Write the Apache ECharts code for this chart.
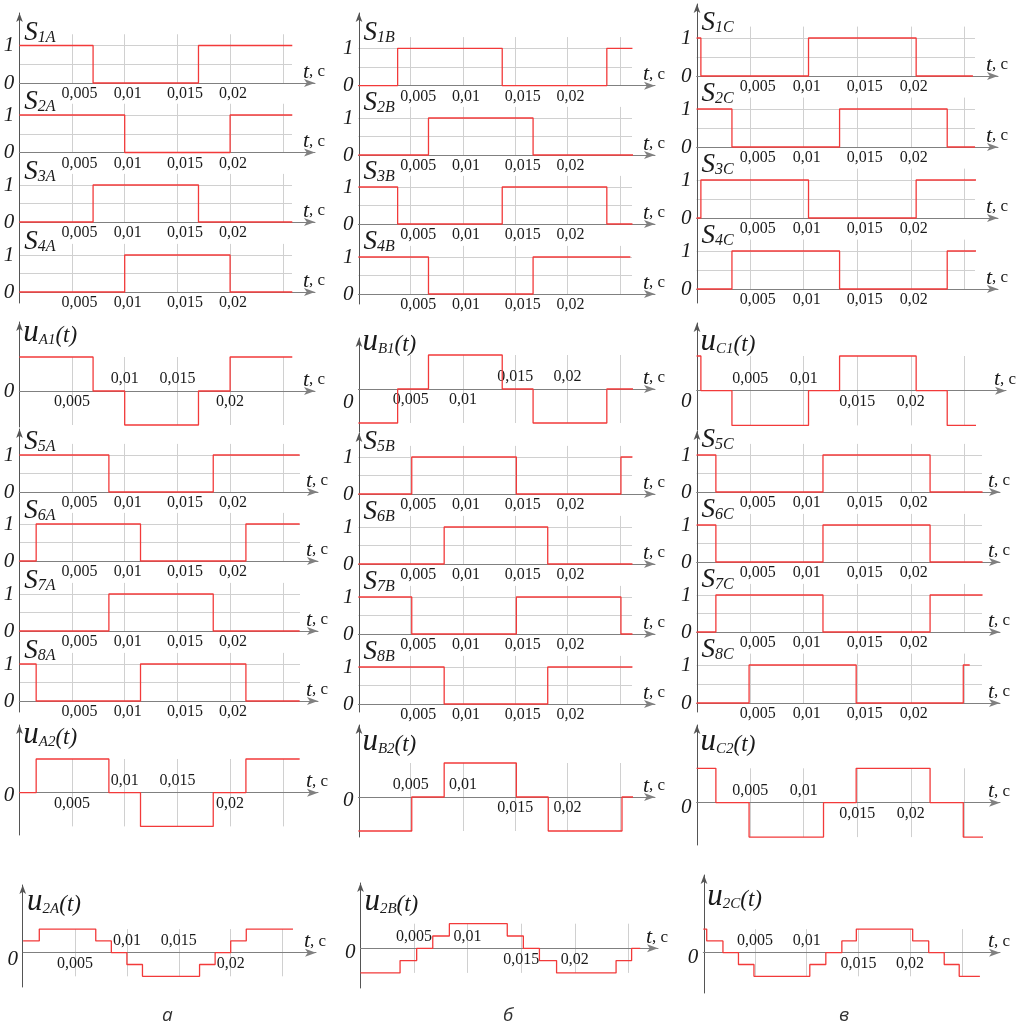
<!DOCTYPE html>
<html><head><meta charset="utf-8">
<script src="https://cdn.jsdelivr.net/npm/echarts@6/dist/echarts.min.js"></script>
<style>html,body{margin:0;padding:0;background:#fff}#c{width:1025px;height:1028px}</style>
</head><body><div id="c"></div><script>
// ---------- DATA (step breakpoints: [time, value from this time on]) ----------
const tickVals = [0.005, 0.01, 0.015, 0.02];
const tickText = ['0,005', '0,01', '0,015', '0,02'];
const colLabels = ['а', 'б', 'в'];

// column а
const S1A = [[0,1],[0.007,0],[0.017,1],[0.0259,1]];
const S2A = [[0,1],[0.010,0],[0.020,1],[0.0259,1]];
const S3A = [[0,0],[0.007,1],[0.017,0],[0.0259,0]];
const S4A = [[0,0],[0.010,1],[0.020,0],[0.0259,0]];
const uA1 = [[0,1],[0.007,0],[0.010,-1],[0.017,0],[0.020,1],[0.0259,1]];
const S5A = [[0,1],[0.0085,0],[0.0184,1],[0.0266,1]];
const S6A = [[0,0],[0.0016,1],[0.0115,0],[0.0215,1],[0.0266,1]];
const S7A = [[0,0],[0.0085,1],[0.0184,0],[0.0266,0]];
const S8A = [[0,1],[0.0016,0],[0.0115,1],[0.0215,0],[0.0266,0]];
const uA2 = [[0,0],[0.0016,1],[0.0085,0],[0.0115,-1],[0.0184,0],[0.0215,1],[0.0266,1]];
const u2A = [[0,1],[0.00156,2],[0.007,1],[0.0085,0],[0.010,-1],[0.0115,-2],[0.017,-1],[0.0185,0],[0.020,1],[0.0215,2],[0.026,2]];

// column б
const S1B = [[0,0],[0.00375,1],[0.01375,0],[0.02375,1],[0.0262,1]];
const S2B = [[0,0],[0.0067,1],[0.0167,0],[0.0267,1]];
const S3B = [[0,1],[0.00375,0],[0.01375,1],[0.02375,0],[0.0262,0]];
const S4B = [[0,1],[0.0067,0],[0.0167,1],[0.026,1]];
const uB1 = [[0,-1],[0.00375,0],[0.0067,1],[0.01375,0],[0.0167,-1],[0.02375,0],[0.0267,1],[0.0272,1]];
const S5B = [[0,0],[0.0051,1],[0.0151,0],[0.0251,1],[0.0262,1]];
const S6B = [[0,0],[0.0082,1],[0.0181,0],[0.0262,0]];
const S7B = [[0,1],[0.0051,0],[0.0151,1],[0.0251,0],[0.0262,0]];
const S8B = [[0,1],[0.0082,0],[0.0181,1],[0.0262,1]];
const uB2 = [[0,-1],[0.0051,0],[0.0082,1],[0.0151,0],[0.01815,-1],[0.0252,0],[0.0265,0]];
const u2B = [[0,-2],[0.0037,-1],[0.00525,0],[0.00675,1],[0.0083,2],[0.0137,1],[0.0152,0],[0.0167,-1],[0.0183,-2],[0.02385,-1],[0.0253,0],[0.0261,0]];

// column в
const S1C = [[0,1],[0.0004,0],[0.01045,1],[0.0205,0],[0.0258,0]];
const S2C = [[0,1],[0.0033,0],[0.01335,1],[0.0234,0],[0.026,0]];
const S3C = [[0,0],[0.0004,1],[0.01045,0],[0.0205,1],[0.0262,1]];
const S4C = [[0,0],[0.0033,1],[0.01335,0],[0.0234,1],[0.0262,1]];
const uC1 = [[0,1],[0.0004,0],[0.0033,-1],[0.01045,0],[0.01335,1],[0.0205,0],[0.0234,-1],[0.0263,-1]];
const S5C = [[0,1],[0.0018,0],[0.0118,1],[0.0218,0],[0.0267,0]];
const S6C = [[0,1],[0.0018,0],[0.0118,1],[0.0218,0],[0.0267,0]];
const S7C = [[0,0],[0.0018,1],[0.0118,0],[0.0218,1],[0.0267,1]];
const S8C = [[0,0],[0.0049,1],[0.0149,0],[0.0249,1],[0.0255,1]];
const uC2 = [[0,1],[0.0018,0],[0.0049,-1],[0.01185,0],[0.0149,1],[0.0218,0],[0.0249,-1],[0.0268,-1]];
const u2C = [[0,2],[0.00033,1],[0.0019,0],[0.0034,-1],[0.0049,-2],[0.0103,-1],[0.01185,0],[0.0134,1],[0.0148,2],[0.02025,1],[0.0218,0],[0.0233,-1],[0.02475,-2],[0.02675,-2]];

// ---------- LAYOUT / STYLE ----------
const RED = '#f23a3a', GRIDC = '#d0d0d0', AX = '#808080', TXT = '#1a1a1a', SERIF = 'Liberation Serif';
const GA  = {x0:19.3, s:10540, tip:315, right:292};
const GA2 = {x0:19.3, s:10540, tip:318, right:300};
const GA3 = {x0:23.1, s:10380, tip:316, right:293};
const GB  = {x0:358.4, s:10460, tip:655, right:632};
const GB3 = {x0:360.4, s:10720, tip:658, right:640};
const GC  = {x0:696.6, s:10710, tip:998, right:975};
const GC1 = {x0:696.6, s:10710, tip:1006, right:975};
const GC2 = {x0:696.6, s:10710, tip:1000, right:982};
const GC3 = {x0:703.3, s:10340, tip:1000, right:980};

const plots = [
  {g:GA, k:'S', t:'1A', d:S1A, zero:83, one:45.5, tb:42},
  {g:GA, k:'S', t:'2A', d:S2A, zero:152.5, one:115, tb:111},
  {g:GA, k:'S', t:'3A', d:S3A, zero:222, one:185, tb:181},
  {g:GA, k:'S', t:'4A', d:S4A, zero:292, one:255, tb:251},
  {g:GA, k:'u', t:'A1', d:uA1, zero:391, one:357, tb:343, above:[1,2], zdy:0},
  {g:GA2, k:'S', t:'5A', d:S5A, zero:492, one:455, tb:451},
  {g:GA2, k:'S', t:'6A', d:S6A, zero:561, one:524, tb:520},
  {g:GA2, k:'S', t:'7A', d:S7A, zero:631, one:594, tb:590},
  {g:GA2, k:'S', t:'8A', d:S8A, zero:701, one:664, tb:660},
  {g:GA2, k:'u', t:'A2', d:uA2, zero:792.7, one:759, tb:745, above:[1,2], zdy:3},
  {g:GA3, k:'u2', t:'2A', d:u2A, zero:952.7, one:940.9, tb:912, above:[1,2], zdy:7},

  {g:GB, k:'S', t:'1B', d:S1B, zero:85.7, one:48.3, tb:42},
  {g:GB, k:'S', t:'2B', d:S2B, zero:155, one:118, tb:112},
  {g:GB, k:'S', t:'3B', d:S3B, zero:224, one:187, tb:181},
  {g:GB, k:'S', t:'4B', d:S4B, zero:294, one:257, tb:251},
  {g:GB, k:'u', t:'B1', d:uB1, zero:389, one:355, tb:352, above:[2,3], zdy:13},
  {g:GB, k:'S', t:'5B', d:S5B, zero:494, one:457, tb:451},
  {g:GB, k:'S', t:'6B', d:S6B, zero:564, one:527, tb:521},
  {g:GB, k:'S', t:'7B', d:S7B, zero:634, one:597, tb:591},
  {g:GB, k:'S', t:'8B', d:S8B, zero:704, one:667, tb:661},
  {g:GB, k:'u', t:'B2', d:uB2, zero:797, one:763, tb:752, above:[0,1], zdy:3},
  {g:GB3, k:'u2', t:'2B', d:u2B, zero:948.3, one:936, tb:912, above:[0,1], zdy:4},

  {g:GC, k:'S', t:'1C', d:S1C, zero:76, one:38, tb:32},
  {g:GC, k:'S', t:'2C', d:S2C, zero:147, one:109, tb:103},
  {g:GC, k:'S', t:'3C', d:S3C, zero:218, one:180, tb:174},
  {g:GC, k:'S', t:'4C', d:S4C, zero:289, one:251, tb:245},
  {g:GC1, k:'u', t:'C1', d:uC1, zero:390.7, one:356, tb:352, above:[0,1], zdy:11},
  {g:GC2, k:'S', t:'5C', d:S5C, zero:492, one:455, tb:449},
  {g:GC2, k:'S', t:'6C', d:S6C, zero:562, one:525, tb:519},
  {g:GC2, k:'S', t:'7C', d:S7C, zero:632, one:595, tb:589},
  {g:GC2, k:'S', t:'8C', d:S8C, zero:703, one:665, tb:659},
  {g:GC2, k:'u', t:'C2', d:uC2, zero:802.7, one:768.3, tb:752, above:[0,1], zdy:5},
  {g:GC3, k:'u2', t:'2C', d:u2C, zero:952.7, one:940.9, tb:907, above:[0,1], zdy:5}
];

const yLines = [
  [19.5,13,303],[19.5,322,427],[19.5,429,712],[19.5,725,835],[22.7,885,987],
  [359,13,304],[359,338,432],[359,433,712],[359,725,837],[360.5,883,988],
  [697,4,303],[697,323,430],[697,431,712],[697,725,845],[704,875,993]
];
const colLabelPos = [[162,1006],[503,1006],[839,1006]];

// ---------- BUILD ----------
const grid = [], xAxis = [], yAxis = [], series = [], title = [];
function addGrid(r){ grid.push(r); return grid.length - 1; }
const tf = {fontFamily:SERIF, fontSize:16, color:TXT, fontWeight:'normal'};
const tickRich = {
  p5:Object.assign({padding:[0,0,0,15]}, tf),
  p4:Object.assign({padding:[0,0,0,6]}, tf),
  c5:Object.assign({}, tf),
  c4:Object.assign({}, tf)
};
function tickFmt(show, shifted){
  return function(v){
    const i = tickVals.findIndex(t => Math.abs(t - v) < 1e-9);
    if (i < 0 || show.indexOf(i) < 0) return '';
    return '{' + (shifted ? 'p' : 'c') + tickText[i].length + '|' + tickText[i] + '}';
  };
}
const nameRich = {
  t:{fontFamily:SERIF,fontStyle:'italic',fontWeight:'normal',fontSize:22,color:TXT,lineHeight:22},
  c:{fontFamily:SERIF,fontWeight:'normal',fontSize:17,color:TXT,lineHeight:22}
};

yLines.forEach(([x,t,b]) => {
  const gi = addGrid({left:x, top:t, width:10, height:b - t});
  xAxis.push({gridIndex:gi, type:'value', show:false, min:0, max:1});
  yAxis.push({gridIndex:gi, type:'value', min:0, max:1,
    axisLine:{show:true, onZero:false, symbol:['none','arrow'], symbolSize:[5,9], lineStyle:{color:'#555', width:1}},
    axisTick:{show:false}, axisLabel:{show:false}, splitLine:{show:false}});
});

plots.forEach(p => {
  const L = p.g, unit = p.zero - p.one;
  const ymin = p.k === 'S' ? 0 : (p.k === 'u' ? -1 : -2);
  const ymax = p.k === 'S' ? 1.3 : (p.k === 'u' ? 1 : 2);
  const gi = addGrid({left:L.x0, top:p.zero - ymax * unit, width:L.right - L.x0, height:(ymax - ymin) * unit});
  const xi = xAxis.length;
  xAxis.push({gridIndex:gi, type:'value', min:0, max:(L.right - L.x0) / L.s, interval:0.005,
    axisLine:{show:false}, axisTick:{show:false}, axisLabel:{show:false},
    splitLine:{show:true, showMinLine:false, showMaxLine:false, lineStyle:{color:GRIDC, width:1}}});
  const yi = yAxis.length;
  const dy = p.zdy || 0;
  yAxis.push({gridIndex:gi, type:'value', min:ymin, max:ymax, interval:p.k === 'S' ? 0.5 : 1,
    axisLine:{show:false}, axisTick:{show:false},
    axisLabel:{margin:5, showMaxLabel:false, fontStyle:'italic', fontFamily:SERIF,
      formatter: v => (Math.abs(v) < 1e-9 ? '{y|0}' : (p.k === 'S' && Math.abs(v - 1) < 1e-9 ? '{y|1}' : '')),
      rich:{y:{fontFamily:SERIF, fontStyle:'italic', fontWeight:'normal', fontSize:21, color:TXT, padding:[2 * dy,0,0,0]}}},
    splitLine:{show:p.k === 'S', showMinLine:false, showMaxLine:false, lineStyle:{color:GRIDC, width:1}}});
  series.push({type:'line', xAxisIndex:xi, yAxisIndex:yi, data:p.d, step:'end', symbol:'none',
    clip:false, silent:true, animation:false, z:5, lineStyle:{color:RED, width:1.3}});

  // axis line, tick labels, name
  const ga = addGrid({left:L.x0, top:p.zero - 30, width:L.tip - L.x0, height:30});
  const amax = (L.tip - L.x0) / L.s;
  const above = p.above || [];
  const below = [0,1,2,3].filter(i => above.indexOf(i) < 0);
  xAxis.push({gridIndex:ga, type:'value', min:0, max:amax, interval:0.005, position:'bottom',
    axisLine:{show:true, onZero:false, symbol:['none','arrow'], symbolSize:[6,11], lineStyle:{color:AX, width:1}},
    axisTick:{show:false}, splitLine:{show:false},
    axisLabel:{margin:3, showMinLabel:false, showMaxLabel:false, formatter:tickFmt(below, p.k === 'S'), rich:tickRich},
    name:'{t|t}{c|, c}', nameLocation:'end', nameGap:-12,
    nameTextStyle:{align:'left', verticalAlign:'bottom', rich:nameRich}});
  xAxis.push({gridIndex:ga, type:'value', min:0, max:amax, interval:0.005, position:'bottom',
    axisLine:{show:false}, axisTick:{show:false}, splitLine:{show:false},
    axisLabel:{inside:true, margin:4, showMinLabel:false, showMaxLabel:false, formatter:tickFmt(above, false), rich:tickRich}});
  yAxis.push({gridIndex:ga, type:'value', show:false, min:0, max:1});

  // plot title
  if (p.k === 'S') {
    title.push({left:L.x0 + 5, top:p.tb - 21.8, padding:0, text:'{m|S}{s|' + p.t + '}',
      textStyle:{fontWeight:'normal', rich:{
        m:{fontFamily:SERIF, fontStyle:'italic', fontWeight:'normal', fontSize:27, lineHeight:26, color:TXT},
        s:{fontFamily:SERIF, fontStyle:'italic', fontWeight:'normal', fontSize:16, lineHeight:15, verticalAlign:'bottom', color:TXT}}}});
  } else {
    title.push({left:L.x0 + 4, top:p.tb - 25.1, padding:0, text:'{m|u}{s|' + p.t + '}{q|(t)}',
      textStyle:{fontWeight:'normal', rich:{
        m:{fontFamily:SERIF, fontStyle:'italic', fontWeight:'normal', fontSize:31, lineHeight:30, color:TXT},
        s:{fontFamily:SERIF, fontStyle:'italic', fontWeight:'normal', fontSize:15, lineHeight:15, verticalAlign:'bottom', color:TXT},
        q:{fontFamily:SERIF, fontStyle:'italic', fontWeight:'normal', fontSize:23, lineHeight:26, verticalAlign:'bottom', color:TXT}}}});
  }
});

colLabels.forEach((t, i) => {
  title.push({left:colLabelPos[i][0], top:colLabelPos[i][1], padding:0, text:t,
    textStyle:{fontFamily:'Open Sans', fontStyle:'italic', fontSize:19, fontWeight:'normal', color:'#333'}});
});

const chart = echarts.init(document.getElementById('c'), null, {renderer:'canvas'});
chart.setOption({animation:false, backgroundColor:'#fff', title, grid, xAxis, yAxis, series});
</script></body></html>
